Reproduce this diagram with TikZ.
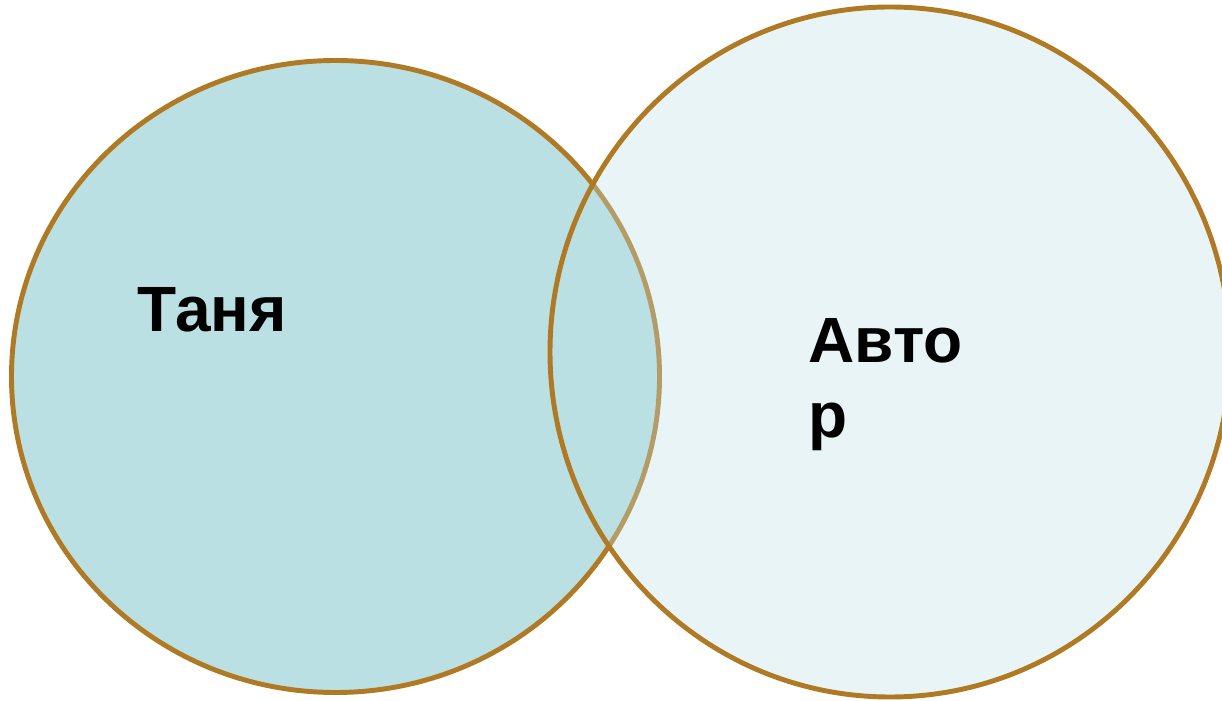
\documentclass[tikz,border=0pt]{standalone}
\usepackage{fontspec}
\setmainfont{Liberation Sans}
\definecolor{ringcol}{RGB}{176,122,36}
\definecolor{setfill}{RGB}{187,224,227}
\begin{document}
\begin{tikzpicture}[x=0.01cm, y=-0.01cm,
	ring/.style={draw=ringcol, line width=1.4pt},
	lbl/.style={font=\bfseries\fontsize{18.2}{21.6}\selectfont, inner sep=0pt, anchor=base west, align=left}]
	\useasboundingbox (0,0) rectangle (1222,701);
	\draw [ring, fill=setfill] (335.5,376.5) ellipse [x radius=324, y radius=316];
	\draw [ring, fill=setfill, fill opacity=0.34] (890,352) ellipse [x radius=340, y radius=345];
	\draw node at (137,332) [lbl] (tanya) {Таня};
	\draw node at (808,438) [lbl] (avtor) {Авто\\р};
\end{tikzpicture}
\end{document}
